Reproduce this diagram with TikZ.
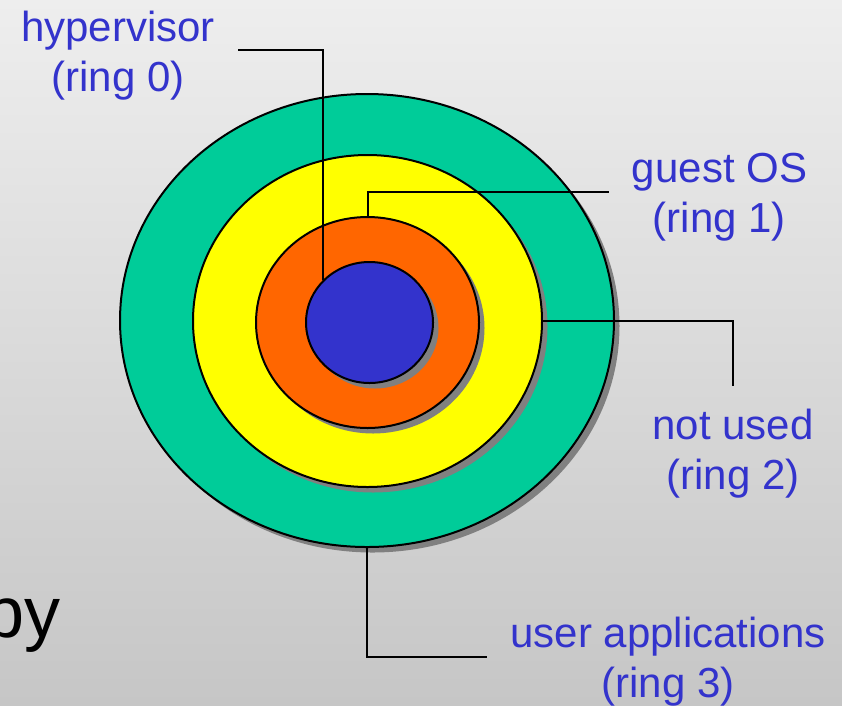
\documentclass[tikz,border=0pt]{standalone}
\usepackage{fontspec}
\setmainfont{Liberation Sans}
\usetikzlibrary{shapes.geometric, shadows}
\definecolor{ringgreen}{RGB}{0,204,153}
\definecolor{ringyellow}{RGB}{255,255,0}
\definecolor{ringorange}{RGB}{255,102,0}
\definecolor{ringblue}{RGB}{51,51,204}
\definecolor{labelblue}{RGB}{51,51,204}
\definecolor{bgtop}{RGB}{238,238,238}
\definecolor{bgbottom}{RGB}{198,198,198}

\begin{document}
\begin{tikzpicture}[x=1pt, y=-1pt,
  ring/.style={ellipse, draw=black, line width=2pt, inner sep=0pt, outer sep=0pt,
    drop shadow={shadow xshift=5.5pt, shadow yshift=-5.5pt, fill=gray, opacity=1}},
  ringlabel/.style={text=labelblue, align=center, inner sep=23pt,
    font=\fontsize{42}{50}\selectfont},
  leader/.style={draw=black, line width=2pt}]
  \useasboundingbox (0,0) rectangle (842,705);
  \clip (0,0) rectangle (842,705);
  \shade[top color=bgtop, bottom color=bgbottom] (0,0) rectangle (842,705);
  % cut-off slide text
  \node[anchor=base west, inner sep=0pt, font=\fontsize{72}{80}\selectfont] (by) at (-16,637) {by};
  % rings, outside in
  \node[ring, fill=ringgreen, minimum width=494pt, minimum height=453pt] (green) at (367,320.5) {};
  \node[ring, fill=ringyellow, minimum width=349pt, minimum height=332pt] (yellow) at (367.5,321) {};
  \node[ring, fill=ringorange, minimum width=223pt, minimum height=211pt] (orange) at (367.5,322.5) {};
  \node[ring, fill=ringblue, minimum width=127pt, minimum height=121pt] (blue) at (369.5,322.5) {};
  \coordinate (hv) at (323,280);
  % labels
  \node[ringlabel] (hyp) at (118,56) {hypervisor\\(ring 0)};
  \node[ringlabel] (guest) at (719.5,197.5) {guest OS\\(ring 1)};
  \node[ringlabel] (notused) at (733,454) {not used\\(ring 2)};
  \node[ringlabel] (user) at (668,661.5) {user applications\\(ring 3)};
  % leaders
  \draw[leader] ([yshift=6pt]hyp.east) -| (hv);
  \draw[leader] ([yshift=5.5pt]guest.west) -| (orange.north);
  \draw[leader] (yellow.east) -| (notused.north);
  \draw[leader] (green.south) |- ([yshift=4.5pt]user.west);
\end{tikzpicture}
\end{document}
